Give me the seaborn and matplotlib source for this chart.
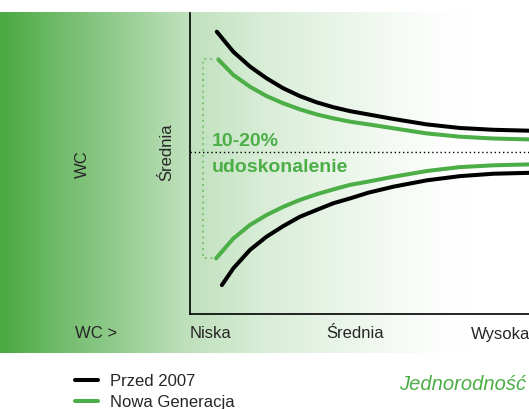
import numpy as np
import pandas as pd
import matplotlib
matplotlib.use('Agg')
import matplotlib.pyplot as plt
from matplotlib.colors import LinearSegmentedColormap
import seaborn as sns

# dane (os x i y w skali 0-100)
x_gora = [7.9, 12.8, 17.7, 22.6, 27.5, 32.4, 37.4, 42.3, 47.2, 52.6, 60.0, 69.8, 79.6, 89.5, 100]
y_przed_gora = [93.8, 87.1, 82.2, 78.3, 75.0, 72.4, 70.3, 68.7, 67.4, 66.3, 64.8, 63.0, 61.8, 61.2, 60.9]
x_nowa_gora = [8.3] + x_gora[1:]
y_nowa_gora = [84.6, 79.4, 75.5, 72.4, 70.0, 68.0, 66.3, 65.0, 63.9, 63.0, 61.7, 60.0, 58.9, 58.3, 58.0]

x_nowa_dol = [7.7] + x_gora[1:]
y_nowa_dol = [18.5, 25.1, 29.6, 32.9, 35.6, 37.9, 39.8, 41.4, 42.9, 44.0, 45.6, 47.5, 48.8, 49.4, 49.7]
x_przed_dol = [9.4] + x_gora[1:]
y_przed_dol = [9.6, 15.2, 21.3, 25.7, 29.2, 32.3, 34.6, 36.8, 38.4, 40.3, 42.3, 44.4, 45.8, 46.6, 46.9]

srodek = 53.8
xt_pos = [5.9, 48.8, 91.6]
xt_labels = ['Niska', 'Średnia', 'Wysoka']
serie = ['Przed 2007', 'Nowa Generacja']

zielony = '#4cae46'
jasny = '#7cc36f'

sns.set_style('white')
plt.rcParams['font.family'] = ['Liberation Sans', 'DejaVu Sans']

fig = plt.figure(figsize=(5.29, 4.09), dpi=100)

# tlo - gradient zielony -> bialy
bg = fig.add_axes([0, 56 / 409, 1, 341 / 409])
stops = [0, 60, 120, 180, 270, 360, 430, 470, 529]
frac = [1, 0.78, 0.59, 0.37, 0.20, 0.095, 0.02, 0, 0]
g = np.array(matplotlib.colors.to_rgb('#4aa942'))
cols = [tuple(1 - f * (1 - g)) for f in frac]
cmap = LinearSegmentedColormap.from_list('tlo', list(zip([s / 529 for s in stops], cols)))
bg.imshow(np.linspace(0, 1, 529)[None, :], aspect='auto', cmap=cmap, extent=[0, 1, 0, 1])
bg.axis('off')

ax = fig.add_axes([190 / 529, 95 / 409, 339 / 529, 301 / 409])
ax.patch.set_alpha(0)

sns.lineplot(x=x_gora, y=y_przed_gora, color='black', lw=2.9, ax=ax, label=serie[0])
sns.lineplot(x=x_nowa_gora, y=y_nowa_gora, color=zielony, lw=2.9, ax=ax, label=serie[1])
sns.lineplot(x=x_nowa_dol, y=y_nowa_dol, color=zielony, lw=2.9, ax=ax)
sns.lineplot(x=x_przed_dol, y=y_przed_dol, color='black', lw=2.9, ax=ax)
handles, labels = ax.get_legend_handles_labels()
ax.get_legend().remove()
for l in ax.lines:
    l.set_solid_joinstyle('round')

ax.axhline(srodek, color='black', lw=1.0, ls=(0, (1, 2)))
# klamra 10-20%
ax.plot([x_nowa_gora[0], 3.8, 3.8, x_nowa_dol[0]],
        [y_nowa_gora[0], y_nowa_gora[0], y_nowa_dol[0], y_nowa_dol[0]],
        color=jasny, lw=1.4, ls=(0, (1, 2)))

ax.text(6.5, 55.8, '10-20%', color=zielony, fontsize=14, fontweight='bold', va='baseline')
ax.text(6.5, 47.2, 'udoskonalenie', color=zielony, fontsize=14, fontweight='bold', va='baseline')

ax.set_xlim(0, 100)
ax.set_ylim(0, 100)
ax.set_xticks(xt_pos)
ax.set_xticklabels(xt_labels, fontsize=12)
ax.set_yticks([srodek])
ax.set_yticklabels(['Średnia'], rotation=90, va='center', fontsize=12)
ax.tick_params(axis='x', length=0, pad=9)
ax.tick_params(axis='y', length=0, pad=11)
for s in ['top', 'right']:
    ax.spines[s].set_visible(False)
for s in ['left', 'bottom']:
    ax.spines[s].set_color('black')
    ax.spines[s].set_linewidth(1.2)

fig.text(75 / 529, (409 - 333) / 409, 'WC >', fontsize=12, va='center')
fig.text(82 / 529, (409 - 164) / 409, 'WC', fontsize=12, va='center', ha='center', rotation=90)
fig.text(399 / 529, (409 - 385) / 409, 'Jednorodność', fontsize=14.5, style='italic',
         color=zielony, ha='left', va='center')

fig.legend(handles, labels, loc='upper left', bbox_to_anchor=(75 / 529, (409 - 374) / 409),
           frameon=False, fontsize=12, handlelength=1.4, handletextpad=0.7,
           labelspacing=0.34, borderpad=0, borderaxespad=0)

fig.savefig('out.png', dpi=100)
